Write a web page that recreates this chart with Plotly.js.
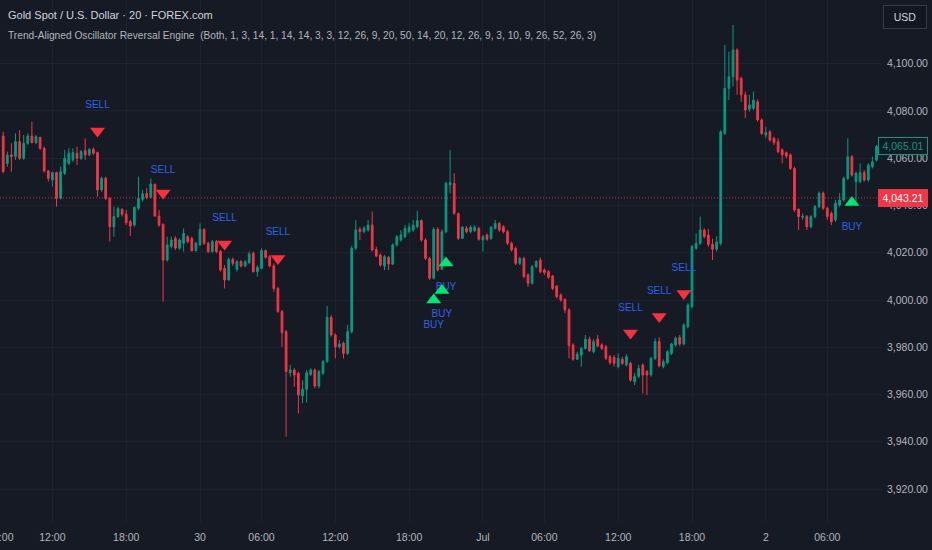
<!DOCTYPE html>
<html>
<head>
<meta charset="utf-8">
<script src="https://cdn.plot.ly/plotly-3.0.1.min.js"></script>
<style>
html,body{margin:0;padding:0;background:#161a25;}
#chart{width:932px;height:550px;}
</style>
</head>
<body>
<div id="chart"></div>
<script>
// ---- data (20-minute bars) ----
const open = [
4069.4,4057.8,4061.4,4060.7,4067.0,4060.0,4066.3,4069.4,4066.6,4068.8,
4064.2,4054.6,4050.8,4053.9,4043.0,4053.6,4057.8,4059.3,4062.1,4060.0,
4063.2,4061.4,4063.8,4062.4,4046.6,4051.5,4043.0,4031.0,4035.3,4038.4,
4036.3,4033.2,4031.7,4038.8,4042.6,4045.1,4043.4,4049.0,4035.5,4032.0,
4016.9,4022.6,4026.0,4021.9,4024.0,4026.8,4026.1,4020.9,4023.3,4029.9,
4024.0,4020.5,4024.7,4020.5,4013.4,4008.5,4017.2,4013.0,4016.2,4014.4,
4015.8,4019.7,4012.0,4013.4,4020.9,4018.3,4014.4,4004.9,3995.1,3986.6,
3969.2,3970.4,3969.0,3959.4,3962.2,3968.5,3970.4,3963.6,3969.0,3973.9,
3992.7,3985.2,3980.2,3981.7,3977.4,3986.6,4021.9,4029.9,4028.9,4029.6,
4031.7,4021.4,4019.0,4014.4,4018.1,4015.2,4023.3,4025.4,4026.8,4028.9,
4029.6,4031.0,4033.6,4025.4,4017.6,4009.2,4029.9,4013.0,4028.9,4048.7,
4049.4,4036.5,4026.1,4030.3,4028.9,4029.3,4030.3,4025.4,4027.5,4026.1,
4030.3,4032.4,4031.0,4028.9,4024.0,4021.9,4015.5,4017.6,4010.6,4007.1,
4014.1,4016.9,4012.7,4012.0,4010.2,4005.9,4002.1,4000.3,3995.8,3981.0,
3974.9,3976.7,3979.5,3983.4,3978.1,3983.4,3981.0,3980.2,3976.0,3975.7,
3971.8,3974.9,3972.5,3973.2,3965.4,3967.6,3972.5,3969.7,3968.3,3975.3,
3982.4,3971.8,3973.5,3977.4,3981.0,3984.2,3981.4,3988.7,3997.2,4021.9,
4024.0,4029.6,4027.5,4023.5,4021.5,4024.0,4070.5,4089.6,4094.5,4105.8,
4093.8,4086.8,4080.7,4081.1,4083.9,4076.2,4069.8,4071.2,4068.4,4067.0,
4063.5,4062.3,4061.4,4055.7,4038.4,4035.0,4035.3,4031.0,4035.3,4039.5,
4045.2,4038.8,4036.7,4033.9,4040.2,4042.3,4051.5,4060.6,4050.1,4050.1,
4053.9,4050.8,4056.4,4059.2
];
const high = [
4071.2,4062.8,4066.3,4070.5,4071.9,4069.8,4070.5,4075.5,4069.8,4069.1,
4064.9,4055.0,4054.3,4054.3,4056.4,4063.5,4064.2,4064.2,4064.9,4063.5,
4068.4,4064.2,4064.6,4062.8,4052.2,4052.2,4043.4,4039.5,4039.5,4038.8,
4038.1,4033.9,4039.5,4052.2,4046.6,4047.3,4051.5,4049.1,4038.1,4032.4,
4026.8,4026.8,4027.0,4026.1,4030.3,4027.5,4026.8,4024.7,4032.4,4030.3,
4024.7,4025.4,4025.4,4021.2,4014.8,4018.0,4018.0,4016.9,4016.9,4016.9,
4020.5,4020.5,4014.8,4021.9,4021.4,4019.0,4015.5,4005.6,3995.8,3987.3,
3972.5,3971.1,3969.7,3966.1,3970.4,3971.1,3971.0,3970.4,3974.6,3997.5,
3993.6,3985.9,3983.1,3982.4,3989.4,4023.0,4033.9,4030.8,4031.3,4033.9,
4037.4,4022.6,4019.7,4019.0,4018.6,4024.0,4027.5,4029.6,4031.7,4032.5,
4033.9,4037.8,4034.1,4026.1,4018.3,4030.8,4030.8,4029.9,4050.1,4063.5,
4053.6,4037.0,4031.3,4031.3,4031.7,4031.7,4031.0,4027.5,4028.2,4031.3,
4033.9,4033.1,4031.7,4029.6,4024.7,4022.6,4018.3,4018.3,4011.3,4014.8,
4016.9,4018.0,4013.4,4012.7,4010.6,4006.3,4002.8,4000.7,3996.5,3981.7,
3978.1,3980.2,3985.2,3984.5,3983.4,3985.2,3981.7,3981.0,3976.7,3976.7,
3977.4,3976.0,3977.1,3973.9,3969.0,3972.5,3973.2,3970.4,3976.0,3983.8,
3984.2,3974.9,3978.8,3981.9,3984.5,3985.2,3990.1,3998.6,4023.3,4028.2,
4035.3,4030.3,4030.0,4026.0,4027.0,4072.0,4107.9,4105.1,4116.4,4106.5,
4094.5,4088.2,4086.8,4088.2,4084.9,4076.9,4073.3,4071.9,4069.1,4068.4,
4064.2,4062.8,4062.1,4056.4,4038.8,4036.7,4036.0,4036.0,4040.2,4045.9,
4045.9,4039.5,4037.4,4042.3,4045.2,4052.2,4068.4,4061.4,4054.3,4057.8,
4055.0,4057.8,4060.6,4065.6
];
const low = [
4053.6,4056.4,4054.3,4059.3,4059.3,4059.3,4065.6,4066.3,4066.0,4063.5,
4053.9,4050.1,4048.0,4039.5,4042.6,4052.9,4057.1,4058.5,4057.1,4059.3,
4059.3,4060.9,4061.4,4043.7,4045.8,4042.3,4024.7,4026.8,4034.6,4035.3,
4031.7,4027.1,4031.0,4038.1,4041.6,4042.6,4043.0,4035.3,4031.0,3999.3,
4016.2,4021.9,4021.2,4021.2,4020.5,4024.0,4020.5,4020.5,4022.9,4023.3,
4019.8,4020.0,4019.8,4012.0,4004.9,4008.2,4014.4,4012.0,4013.8,4013.8,
4015.2,4011.6,4009.9,4013.0,4017.5,4013.8,4003.5,3994.6,3980.2,3942.2,
3967.6,3963.3,3952.0,3956.3,3956.6,3967.8,3962.6,3962.6,3968.3,3973.5,
3984.5,3975.3,3979.5,3975.3,3976.7,3985.9,4021.2,4025.4,4028.2,4028.9,
4020.5,4018.1,4014.1,4012.7,4012.7,4014.8,4022.6,4024.7,4026.1,4028.2,
4028.9,4030.3,4024.7,4016.9,4008.5,4008.7,4012.0,4012.7,4028.2,4045.1,
4036.0,4025.4,4025.8,4028.2,4028.2,4028.9,4025.1,4020.5,4025.1,4025.4,
4029.9,4028.9,4028.2,4023.3,4020.5,4014.8,4014.8,4009.2,4005.6,4006.5,
4013.4,4011.3,4010.6,4009.0,4004.2,4000.7,3999.3,3994.4,3975.3,3974.3,
3974.6,3971.8,3979.1,3978.1,3977.4,3980.0,3978.8,3974.6,3972.5,3971.8,
3971.1,3972.5,3971.8,3965.4,3964.0,3966.9,3960.5,3959.8,3967.6,3974.6,
3971.5,3971.1,3972.9,3976.7,3980.2,3980.5,3980.8,3988.0,3996.5,4021.2,
4023.3,4026.1,4022.5,4016.9,4020.5,4023.0,4069.8,4084.6,4090.3,4086.8,
4083.9,4076.9,4079.7,4080.4,4075.5,4069.8,4068.4,4067.0,4065.6,4062.1,
4057.8,4060.0,4055.0,4037.4,4029.6,4033.9,4029.6,4030.3,4034.6,4038.8,
4038.1,4033.9,4031.7,4033.1,4039.5,4041.6,4050.8,4052.2,4041.6,4049.4,
4050.1,4050.1,4055.7,4058.5
];
const close = [
4054.3,4061.4,4060.7,4067.0,4060.0,4066.3,4069.4,4066.6,4069.1,4064.2,
4054.6,4051.5,4053.9,4043.0,4054.3,4060.0,4062.1,4062.4,4060.0,4062.8,
4061.4,4063.8,4062.1,4046.6,4051.5,4043.0,4031.0,4035.3,4038.7,4036.3,
4032.7,4031.3,4039.2,4043.0,4044.9,4043.4,4049.1,4035.5,4031.7,4016.9,
4023.3,4025.4,4022.0,4025.4,4028.2,4024.7,4020.9,4024.0,4029.9,4024.0,
4020.5,4024.7,4020.5,4012.7,4008.5,4017.2,4015.5,4016.2,4014.4,4016.2,
4019.5,4012.0,4013.8,4020.9,4018.1,4014.4,4004.9,3995.1,3986.2,3969.7,
3970.4,3968.3,3959.8,3962.2,3969.2,3970.4,3963.6,3969.7,3973.9,3992.7,
3985.2,3980.2,3981.4,3977.4,3986.6,4021.9,4029.6,4028.9,4030.3,4031.7,
4021.2,4018.6,4014.8,4018.3,4015.2,4023.3,4026.8,4027.5,4030.3,4030.8,
4031.7,4033.6,4025.4,4017.6,4009.2,4029.9,4012.7,4028.9,4049.4,4049.7,
4036.7,4026.1,4030.8,4028.9,4030.8,4030.8,4025.7,4026.8,4025.7,4030.8,
4032.4,4029.6,4028.9,4024.0,4021.2,4015.5,4017.6,4009.9,4007.1,4014.1,
4016.2,4012.0,4011.6,4009.6,4004.9,4001.4,4000.0,3995.8,3980.7,3974.9,
3977.1,3979.5,3983.4,3978.5,3982.4,3980.5,3979.5,3975.3,3973.5,3973.2,
3975.3,3973.2,3976.0,3966.1,3967.6,3971.1,3968.3,3968.3,3975.3,3982.4,
3972.1,3973.9,3978.1,3981.4,3983.8,3981.4,3989.4,3997.9,4022.6,4024.0,
4029.6,4026.8,4023.5,4021.5,4024.5,4071.2,4089.6,4094.5,4105.8,4093.1,
4086.8,4080.4,4082.5,4084.6,4076.2,4070.5,4070.8,4067.7,4066.6,4062.8,
4061.4,4060.9,4055.7,4038.1,4035.3,4035.5,4031.0,4035.3,4039.5,4045.2,
4038.8,4035.3,4033.1,4040.9,4042.3,4051.5,4060.6,4052.9,4053.6,4053.9,
4050.8,4057.1,4058.5,4065.01
];

// time-axis labels (bar index of each label)
const timeTickIdx  = [-0.7, 12, 30, 48, 63, 81, 99, 117, 132, 150, 168, 186, 201];
const timeTickText = ["08:00","12:00","18:00","30","06:00","12:00","18:00","Jul","06:00","12:00","18:00","2","06:00"];

// price-axis labels
const priceTicks = [3920, 3940, 3960, 3980, 4000, 4020, 4040, 4060, 4080, 4100];
const priceTickText = ["3,920.00","3,940.00","3,960.00","3,980.00","4,000.00","4,020.00","4,040.00","4,060.00","4,080.00","4,100.00"];

// indicator signals
const sellIdx   = [23, 39, 54, 67, 153, 160, 166];
const sellMark  = [4071.5, 4045.3, 4023.7, 4017.6, 3986.0, 3993.0, 4002.8];
const sellLabel = [4082.5, 4055.0, 4034.3, 4028.4, 3996.6, 4003.8, 4013.5];
const buyIdx    = [105, 107, 108, 207];
const buyMark   = [4000.0, 4004.0, 4015.7, 4041.3];
const buyLabel  = [3989.4, 3993.7, 4005.1, 4030.5];

const lastPrice = 4065.01;
const linePrice = 4043.21;

// ---- drawing ----
const barIdx = close.map((_, i) => i);
const FONT = '"Liberation Sans", Arial, sans-serif';
const BG = '#161a25';
const UP = '#089981', DOWN = '#f23645';
const SIG_TEXT = '#2f62e6';

const traces = [
  {type:'scatter', mode:'text', x: sellIdx, y: sellLabel, text: sellIdx.map(() => 'SELL'),
   textfont:{family: FONT, size: 10, color: SIG_TEXT}, hoverinfo:'skip'},
  {type:'scatter', mode:'text', x: buyIdx, y: buyLabel, text: buyIdx.map(() => 'BUY'),
   textfont:{family: FONT, size: 10, color: SIG_TEXT}, hoverinfo:'skip'},
  {type:'candlestick', x: barIdx, open: open, high: high, low: low, close: close,
   increasing:{line:{color:UP, width:1}, fillcolor:UP},
   decreasing:{line:{color:DOWN, width:1}, fillcolor:DOWN},
   whiskerwidth: 0, hoverinfo:'skip'},
  {type:'scatter', mode:'markers', x: sellIdx, y: sellMark,
   marker:{symbol:'triangle-down', size:13, color:'#f7323f'}, hoverinfo:'skip'},
  {type:'scatter', mode:'markers', x: buyIdx, y: buyMark,
   marker:{symbol:'triangle-up', size:13, color:'#00e676'}, hoverinfo:'skip'}
];

const layout = {
  width: 932, height: 550,
  paper_bgcolor: BG, plot_bgcolor: BG,
  margin: {l:0, r:50, t:0, b:28},
  showlegend: false,
  boxgap: 0.4,
  font: {family: FONT, color:'#b2b5be'},
  xaxis: {
    range: [-0.78, 214.34], tickmode:'array', tickvals: timeTickIdx, ticktext: timeTickText,
    showgrid: true, gridcolor:'#1e2230', gridwidth:1, zeroline:false, showline:false,
    ticks:'', tickfont:{family: FONT, size: 10.5, color:'#b2b5be'}, ticklabelstandoff: 7,
    ticklabeloverflow:'allow',
    rangeslider:{visible:false}, fixedrange:true
  },
  yaxis: {
    side:'right', range:[3906.05, 4126.96], tickmode:'array', tickvals: priceTicks, ticktext: priceTickText,
    showgrid: true, gridcolor:'#1e2230', gridwidth:1, zeroline:false, showline:false,
    ticks:'', tickfont:{family: FONT, size: 10.5, color:'#b2b5be'}, ticklabelstandoff: 4, fixedrange:true
  },
  shapes: [
    {type:'line', xref:'paper', x0:0, x1:1, yref:'y', y0:linePrice, y1:linePrice,
     line:{color:'rgba(242,54,69,0.8)', width:1, dash:'1px,2px'}}
  ],
  annotations: [
    {xref:'paper', yref:'paper', x: 6/882, y: 1 - 15/522, xanchor:'left', yanchor:'middle', showarrow:false,
     text:'Gold Spot / U.S. Dollar · 20 · FOREX.com', font:{family: FONT, size: 11, color:'#d1d4dc'}},
    {xref:'paper', yref:'paper', x: 6/882, y: 1 - 35/522, xanchor:'left', yanchor:'middle', showarrow:false,
     text:'Trend-Aligned Oscillator Reversal Engine  (Both, 1, 3, 14, 1, 14, 14, 3, 3, 12, 26, 9, 20, 50, 14, 20, 12, 26, 9, 3, 10, 9, 26, 52, 26, 3)',
     font:{family: FONT, size: 10.2, color:'#b2b5be'}},
    {xref:'paper', yref:'y', x: 878/882, y: lastPrice, xanchor:'left', yanchor:'middle', showarrow:false,
     text: lastPrice.toLocaleString('en-US', {minimumFractionDigits:2}), font:{family: FONT, size: 10.5, color: UP},
     bgcolor: BG, bordercolor: UP, borderwidth:1, borderpad:2, width: 44},
    {xref:'paper', yref:'y', x: 878/882, y: linePrice, xanchor:'left', yanchor:'middle', showarrow:false,
     text: linePrice.toLocaleString('en-US', {minimumFractionDigits:2}), font:{family: FONT, size: 10.5, color:'#ffffff'},
     bgcolor: DOWN, bordercolor: DOWN, borderwidth:1, borderpad:2, width: 44},
    {xref:'paper', yref:'paper', x: 905/882, y: 1 - 17/522, xanchor:'center', yanchor:'middle', showarrow:false,
     text:'USD', font:{family: FONT, size: 10.5, color:'#d1d4dc'},
     bgcolor:'#131722', bordercolor:'#363a45', borderwidth:1, borderpad:5, width: 32}
  ]
};

Plotly.newPlot('chart', traces, layout, {staticPlot:true, displayModeBar:false});
</script>
</body>
</html>
